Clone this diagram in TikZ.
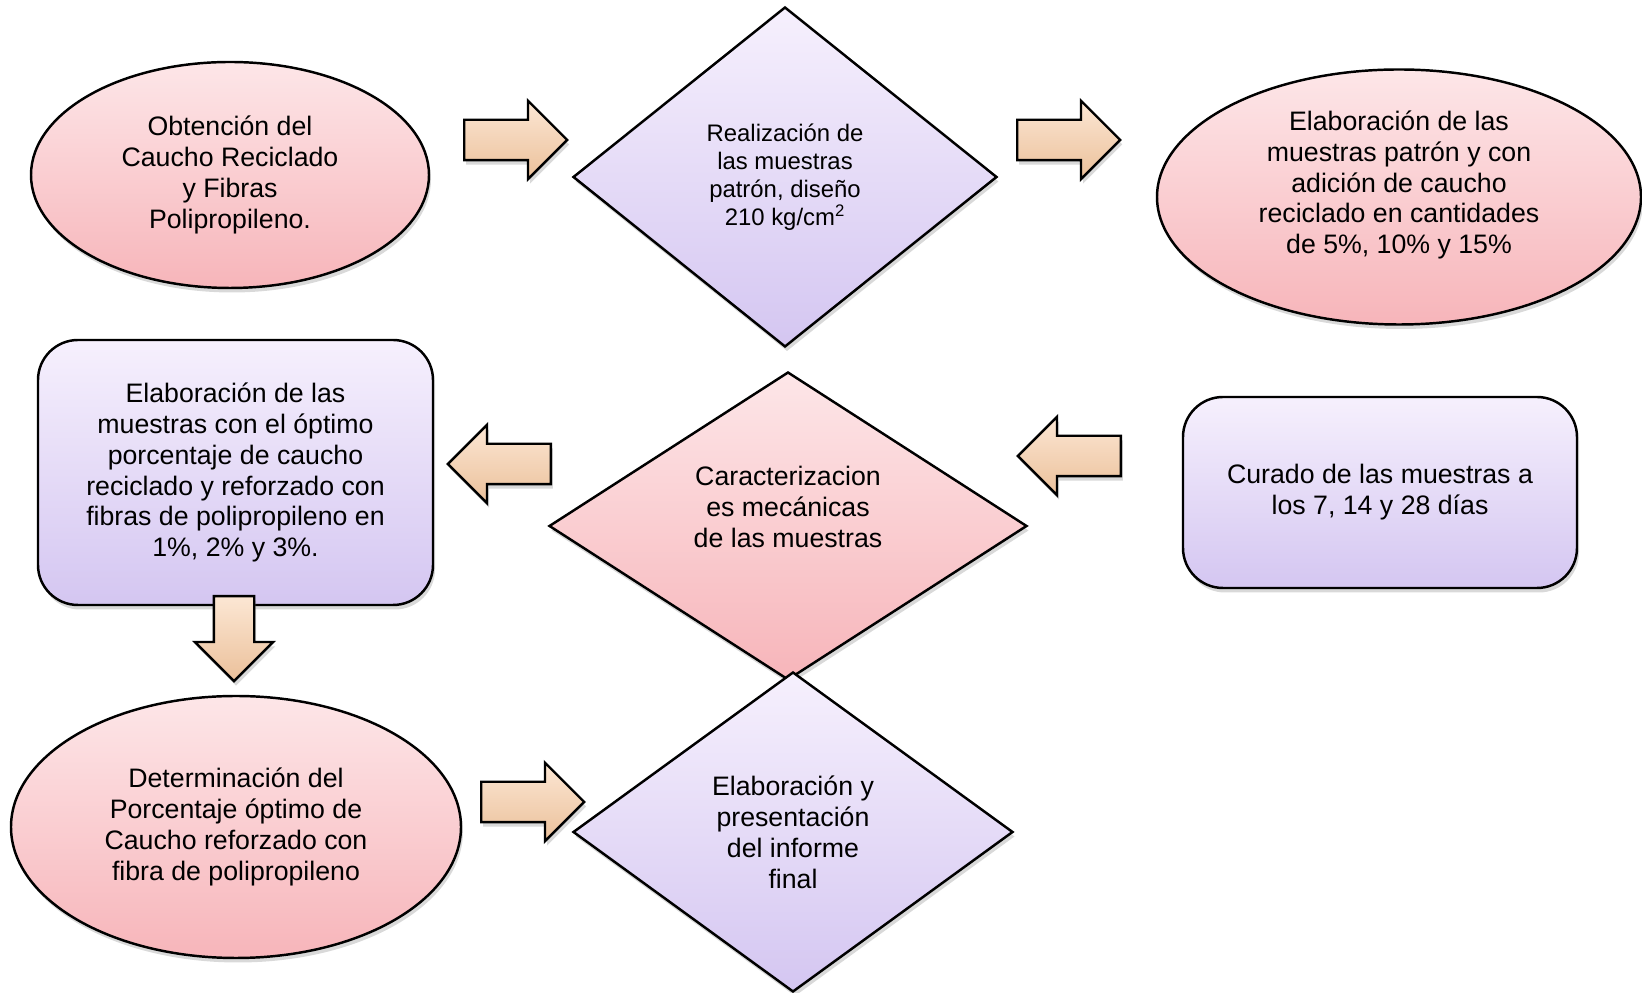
\documentclass[tikz,border=0pt]{standalone}
\usepackage{fontspec}
\setmainfont{Liberation Sans}
\usetikzlibrary{shapes.geometric,shapes.arrows,shadows}

\definecolor{rosaclaro}{HTML}{FDE6E8}
\definecolor{rosafuerte}{HTML}{F7B5BA}
\definecolor{lilaclaro}{HTML}{F6F0FD}
\definecolor{lilafuerte}{HTML}{D4C6F1}
\definecolor{duraznoclaro}{HTML}{FCE7D4}
\definecolor{duraznofuerte}{HTML}{EBC09A}

\tikzset{
  sombra/.style={drop shadow={shadow xshift=0.04cm, shadow yshift=-0.09cm, opacity=0.3}},
  letra/.style={align=center, font=\fontsize{15.2pt}{17.6pt}\selectfont},
  caja/.style={draw=black, line width=1.4pt, letra, sombra},
  fondorosa/.style={top color=rosaclaro, bottom color=rosafuerte},
  fondolila/.style={top color=lilaclaro, bottom color=lilafuerte},
  elipse/.style={caja, ellipse},
  rombo/.style={caja, diamond},
  redondo/.style={caja, rectangle, rounded corners=0.8cm},
  flecha/.style={single arrow, draw=black, line width=1.4pt, sombra,
    top color=duraznoclaro, bottom color=duraznofuerte,
    minimum height=2.06cm, inner xsep=0pt, inner ysep=0.38cm,
    single arrow head extend=0.38cm, single arrow tip angle=90, anchor=tail}
}

\begin{document}
\begin{tikzpicture}[scale=1.0]
    \useasboundingbox (0,0) rectangle (32.84,19.86);

    % first row
    \node[elipse, fondorosa, minimum width=7.96cm, minimum height=4.52cm] (obtencion) at (4.60,16.36)
        {Obtención del\\Caucho Reciclado\\y Fibras\\Polipropileno.};
    \node[rombo, fondolila, minimum width=8.48cm, minimum height=6.80cm,
        font=\fontsize{13.6pt}{15.9pt}\selectfont] (realizacion) at (15.70,16.32)
        {Realización de\\las muestras\\patrón, diseño\\210 kg/cm\textsuperscript{2}};
    \node[elipse, fondorosa, minimum width=9.68cm, minimum height=5.10cm] (elabpatron) at (27.98,15.92) {};
    \node[letra] (elabpatrontxt) at ([yshift=0.24cm]elabpatron.center)
        {Elaboración de las\\muestras patrón y con\\adición de caucho\\reciclado en cantidades\\de 5\%, 10\% y 15\%};

    % second row
    \node[redondo, fondolila, minimum width=7.90cm, minimum height=5.30cm] (elabfibras) at (4.71,10.41)
        {Elaboración de las\\muestras con el óptimo\\porcentaje de caucho\\reciclado y reforzado con\\fibras de polipropileno en\\1\%, 2\% y 3\%.};
    \node[rombo, fondorosa, minimum width=9.56cm, minimum height=6.16cm] (caract) at (15.76,9.34) {};
    \node[letra] (caracttxt) at ([yshift=0.38cm]caract.center)
        {Caracterizacion\\es mecánicas\\de las muestras};
    \node[redondo, fondolila, minimum width=7.88cm, minimum height=3.82cm] (curado) at (27.60,10.01)
        {Curado de las muestras a\\los 7, 14 y 28 días};

    % third row
    \node[elipse, fondorosa, minimum width=9.00cm, minimum height=5.24cm] (determ) at (4.72,3.32)
        {Determinación del\\Porcentaje óptimo de\\Caucho reforzado con\\fibra de polipropileno};
    \node[rombo, fondolila, minimum width=8.80cm, minimum height=6.40cm] (informe) at (15.86,3.22)
        {Elaboración y\\presentación\\del informe\\final};

    % block arrows
    \node[flecha] (f1) at (9.26,17.06) {};
    \node[flecha] (f2) at (20.32,17.06) {};
    \node[flecha, shape border rotate=180] (f3) at (11.04,10.58) {};
    \node[flecha, shape border rotate=180] (f4) at (22.44,10.74) {};
    \node[flecha, rotate=-90, minimum height=1.70cm] (f5) at (4.68,7.96) {};
    \node[flecha] (f6) at (9.60,3.82) {};
\end{tikzpicture}
\end{document}
